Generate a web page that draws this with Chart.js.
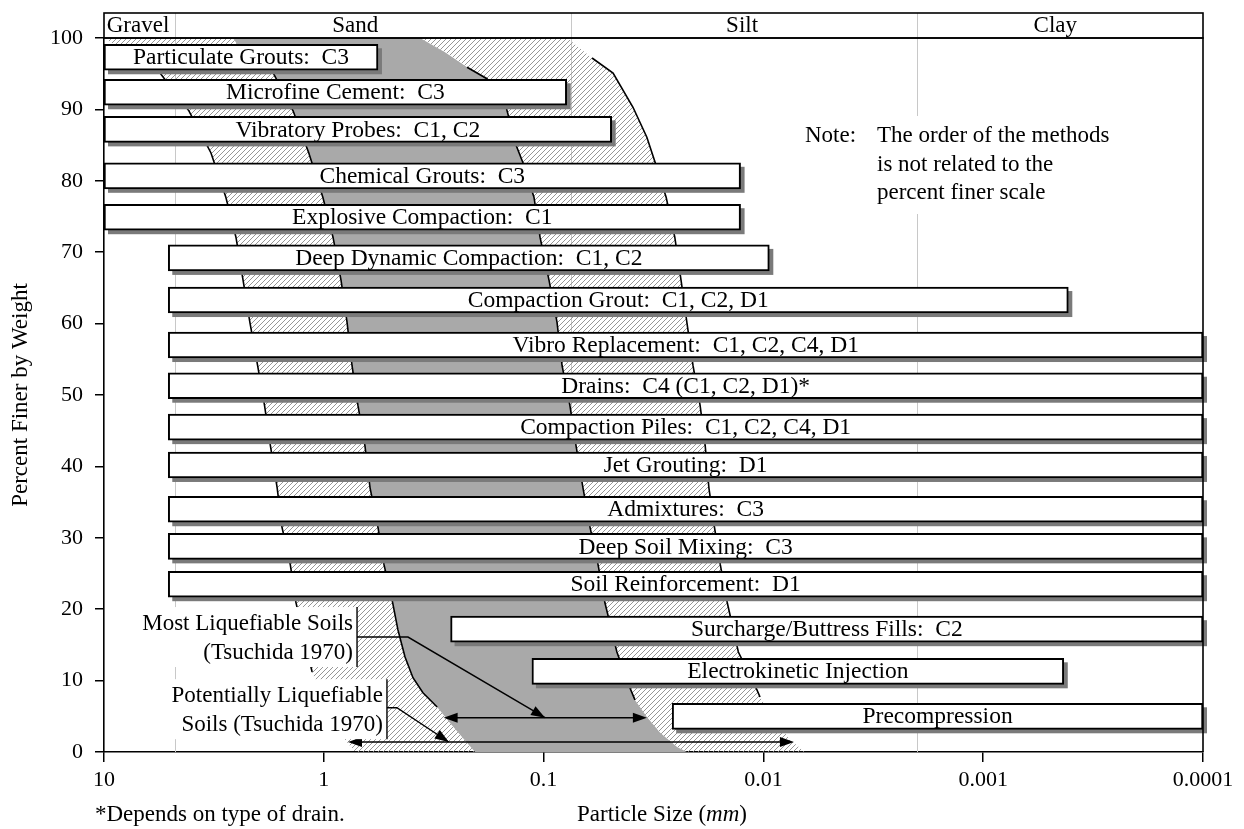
<!DOCTYPE html>
<html>
<head>
<meta charset="utf-8">
<script src="https://cdn.jsdelivr.net/npm/chart.js@4.4.1/dist/chart.umd.min.js"></script>
<style>
  html, body { margin: 0; padding: 0; background: #fff; }
  #wrap { width: 1244px; height: 829px; position: relative; }
</style>
</head>
<body>
<div id="wrap"><canvas id="chart"></canvas></div>
<script>
/* global Chart */

// ground improvement methods: name, coarse limit (mm), fine limit (mm), percent finer level
const methodNames = [
  "Particulate Grouts:  C3",
  "Microfine Cement:  C3",
  "Vibratory Probes:  C1, C2",
  "Chemical Grouts:  C3",
  "Explosive Compaction:  C1",
  "Deep Dynamic Compaction:  C1, C2",
  "Compaction Grout:  C1, C2, D1",
  "Vibro Replacement:  C1, C2, C4, D1",
  "Drains:  C4 (C1, C2, D1)*",
  "Compaction Piles:  C1, C2, C4, D1",
  "Jet Grouting:  D1",
  "Admixtures:  C3",
  "Deep Soil Mixing:  C3",
  "Soil Reinforcement:  D1",
  "Surcharge/Buttress Fills:  C2",
  "Electrokinetic Injection",
  "Precompression",
];
const methodCoarse = [10, 10, 10, 10, 10, 5.1, 5.1, 5.1, 5.1, 5.1, 5.1, 5.1, 5.1, 5.1, 0.265, 0.113, 0.026];
const methodFine = [0.567, 0.0785, 0.049, 0.0127, 0.0127, 0.0094, 0.00041, 0.0001, 0.0001, 0.0001, 0.0001,
  0.0001, 0.0001, 0.0001, 0.0001, 0.00043, 0.0001];
const methodLevel = [97.3, 92.4, 87.2, 80.7, 74.9, 69.2, 63.3, 57.0, 51.3, 45.5, 40.2, 34.0, 28.8, 23.5, 17.2, 11.3, 5.0];

// gradation limits (Tsuchida 1970), size in mm and percent finer
const potCoarseSize = [10, 8.64, 5.56, 4.11, 3.26, 2.79, 2.51, 2.33, 2.17, 2.0, 1.86, 1.75, 1.63, 1.55, 1.42, 1.34, 1.13, 0.987, 0.80, 0.72];
const potCoarsePct = [100, 98.7, 95.1, 89.8, 83.9, 77.7, 72.1, 66.1, 60.2, 54.1, 48.5, 42.9, 37.0, 31.5, 26.2, 21.0, 11.2, 6.6, 1.7, 0];
const mostCoarseSize = [2.59, 2.46, 1.70, 1.38, 1.17, 1.01, 0.908, 0.835, 0.784, 0.744, 0.699, 0.650, 0.616, 0.567, 0.532,
  0.489, 0.460, 0.427, 0.393, 0.354, 0.305, 0.267, 0.235, 0.205];
const mostCoarsePct = [100, 99.0, 95.1, 89.8, 83.9, 77.7, 72.1, 66.1, 60.2, 54.1, 48.5, 42.9, 37.0, 31.5, 26.2,
  21.3, 17.1, 13.3, 10.4, 8.3, 6.3, 4.1, 2.1, 0];
const mostFineSize = [0.365, 0.281, 0.223, 0.181, 0.148, 0.1335, 0.124, 0.1106, 0.1038, 0.0945, 0.0869, 0.0824, 0.0759,
  0.0712, 0.0662, 0.0615, 0.0565, 0.0526, 0.0464, 0.0405, 0.0384, 0.0339, 0.0295, 0.0247, 0.0223];
const mostFinePct = [100, 98.0, 95.9, 94.3, 90.3, 85.0, 82.5, 77.7, 72.1, 66.1, 60.2, 54.1, 48.5,
  42.9, 37.0, 31.5, 26.2, 20.9, 14.0, 9.0, 7.3, 4.9, 2.7, 0.7, 0];
const potFineSize = [0.0782, 0.0602, 0.0483, 0.0392, 0.0339, 0.0311, 0.0277, 0.0253, 0.0237, 0.0223, 0.0209, 0.0194,
  0.0184, 0.0177, 0.0167, 0.0157, 0.0146, 0.0130, 0.0107, 0.01036, 0.00886, 0.00757, 0.00647];
const potFinePct = [100, 97.2, 95.1, 90.3, 86.1, 82.6, 77.7, 72.1, 66.1, 60.2, 54.1, 48.5,
  42.9, 37.0, 31.5, 26.2, 20.9, 14.0, 8.7, 7.7, 4.5, 1.7, 0];
// part of each limit drawn as a line (percent finer, upper and lower)
const strokedPct = [[95.1, 11.2], [95.1, 6.3], [95.9, 7.3], [97.2, 7.7]];

// range arrows at the foot of the curves
const mostRange = [0.285, 0.0339];
const mostRangePct = 4.8;
const potRange = [0.776, 0.00726];
const potRangePct = 1.4;

// callouts: text, bracket size (mm), bracket span (percent), leader path
const calloutText = [["Most Liquefiable Soils", "(Tsuchida 1970)"], ["Potentially Liquefiable", "Soils (Tsuchida 1970)"]];
const calloutSize = [0.706, 0.516];
const calloutSpan = [[20.3, 11.9], [10.2, 1.8]];
const calloutPathSize = [[0.706, 0.414, 0.0985], [0.516, 0.465, 0.27]];
const calloutPathPct = [[16.1, 16.1, mostRangePct], [6.2, 6.2, potRangePct]];

// soil classes along the top
const soilBands = ["Gravel", "Sand", "Silt", "Clay"];
const bandLimits = [10, 4.75, 0.075, 0.002, 0.0001];
const bandLabelAt = [7.0, 0.72, 0.0125, 0.00047];

const xTicks = [10, 1, 0.1, 0.01, 0.001, 0.0001];
const xTickLabels = ["10", "1", "0.1", "0.01", "0.001", "0.0001"];

const noteLines = ["The order of the methods", "is not related to the", "percent finer scale"];

const serif = "'Liberation Serif', 'Times New Roman', serif";

const canvas = document.getElementById("chart");

function hatch() {
  const c = document.createElement("canvas");
  c.width = 5;
  c.height = 5;
  const g = c.getContext("2d");
  g.strokeStyle = "#8a8a8a";
  g.lineWidth = 0.9;
  g.beginPath();
  g.moveTo(-1, 6); g.lineTo(6, -1);
  g.moveTo(-1, 1); g.lineTo(1, -1);
  g.moveTo(4, 6); g.lineTo(6, 4);
  g.stroke();
  return canvas.getContext("2d").createPattern(c, "repeat");
}

const pts = (s, p) => s.map((v, i) => ({ x: v, y: p[i] }));
const curveA = pts(potCoarseSize, potCoarsePct);
const curveB = pts(mostCoarseSize, mostCoarsePct);
const curveC = pts(mostFineSize, mostFinePct);
const curveD = pts(potFineSize, potFinePct);

const stroked = (c, k) => c.filter((p) => p.y <= strokedPct[k][0] && p.y >= strokedPct[k][1]);
const lineDs = (data) => ({
  type: "line", data, borderColor: "#000", borderWidth: 1.6, pointRadius: 0, fill: false, tension: 0, order: 1,
});
const areaDs = (data, color) => ({
  type: "line", data, borderColor: "rgba(0,0,0,0)", borderWidth: 0, backgroundColor: color,
  pointRadius: 0, fill: "shape", tension: 0, order: 2,
});

function arrowHead(ctx, x0, y0, x1, y1) {
  const a = Math.atan2(y1 - y0, x1 - x0);
  const len = 14, half = 5;
  ctx.beginPath();
  ctx.moveTo(x1, y1);
  ctx.lineTo(x1 - len * Math.cos(a) + half * Math.sin(a), y1 - len * Math.sin(a) - half * Math.cos(a));
  ctx.lineTo(x1 - len * Math.cos(a) - half * Math.sin(a), y1 - len * Math.sin(a) + half * Math.cos(a));
  ctx.closePath();
  ctx.fill();
}

const backdrop = {
  id: "backdrop",
  beforeDatasetsDraw(chart) {
    const { ctx, chartArea: a, scales: { x } } = chart;
    ctx.save();
    ctx.strokeStyle = "#c8c8c8";
    ctx.lineWidth = 1;
    bandLimits.slice(1, -1).forEach((v) => {
      const xp = Math.round(x.getPixelForValue(v)) + 0.5;
      ctx.beginPath();
      ctx.moveTo(xp, a.top - 25);
      ctx.lineTo(xp, a.bottom);
      ctx.stroke();
    });
    ctx.restore();
  },
  beforeDatasetDraw(chart, args) {
    if (args.meta.type !== "bar") return;
    const ctx = chart.ctx;
    ctx.save();
    ctx.fillStyle = "#7a7a7a";
    args.meta.data.forEach((bar) => {
      const { x, y, base, height } = bar.getProps(["x", "y", "base", "height"], true);
      ctx.fillRect(Math.min(x, base) + 4, y - height / 2 + 4, Math.abs(x - base), height);
    });
    ctx.restore();
  },
};

const annotations = {
  id: "annotations",
  afterDatasetsDraw(chart) {
    const { ctx, scales: { x, y } } = chart;
    ctx.save();
    ctx.fillStyle = "#000";
    ctx.strokeStyle = "#000";

    // method names inside the bars
    ctx.font = `23.5px ${serif}`;
    ctx.textAlign = "center";
    ctx.textBaseline = "middle";
    chart.getDatasetMeta(0).data.forEach((bar, i) => {
      const { x: xe, y: yc, base } = bar.getProps(["x", "y", "base"], true);
      ctx.fillText(methodNames[i], (xe + base) / 2, yc + 1);
    });

    // range arrows
    ctx.lineWidth = 1.6;
    [[mostRange, mostRangePct], [potRange, potRangePct]].forEach(([r, p]) => {
      const x0 = x.getPixelForValue(r[0]);
      const x1 = x.getPixelForValue(r[1]);
      const yp = y.getPixelForValue(p);
      ctx.beginPath();
      ctx.moveTo(x0 + 6, yp);
      ctx.lineTo(x1 - 6, yp);
      ctx.stroke();
      arrowHead(ctx, x1, yp, x0, yp);
      arrowHead(ctx, x0, yp, x1, yp);
    });

    // callouts with white label boxes
    ctx.font = `23px ${serif}`;
    ctx.textAlign = "right";
    calloutText.forEach((lines, k) => {
      const bx = x.getPixelForValue(calloutSize[k]);
      const yt = y.getPixelForValue(calloutSpan[k][0]);
      const yb = y.getPixelForValue(calloutSpan[k][1]);
      const w = Math.max(...lines.map((t) => ctx.measureText(t).width));
      ctx.fillStyle = "#fff";
      ctx.fillRect(bx - w - 10, yt, w + 10, yb - yt);
      ctx.fillStyle = "#000";
      const mid = (yt + yb) / 2;
      lines.forEach((t, j) => ctx.fillText(t, bx - 4, mid + (j - 0.5) * 29 + 1));
      ctx.lineWidth = 1.4;
      ctx.beginPath();
      ctx.moveTo(bx, yt);
      ctx.lineTo(bx, yb);
      ctx.stroke();
      const path = calloutPathSize[k].map((s, j) => [x.getPixelForValue(s), y.getPixelForValue(calloutPathPct[k][j])]);
      ctx.beginPath();
      path.forEach(([px, py], j) => (j ? ctx.lineTo(px, py) : ctx.moveTo(px, py)));
      ctx.stroke();
      const n = path.length;
      arrowHead(ctx, path[n - 2][0], path[n - 2][1], path[n - 1][0], path[n - 1][1]);
    });

    // note
    ctx.textAlign = "left";
    ctx.font = `23px ${serif}`;
    ctx.fillStyle = "#fff";
    ctx.fillRect(800, 116, 330, 98);
    ctx.fillStyle = "#000";
    ctx.fillText("Note:", 805, 136);
    noteLines.forEach((t, j) => ctx.fillText(t, 877, 136 + j * 28.5));
    ctx.restore();
  },
  afterDraw(chart) {
    const { ctx, chartArea: a, scales: { x } } = chart;
    ctx.save();
    ctx.strokeStyle = "#000";
    ctx.lineWidth = 1.6;
    // frame top and right
    ctx.beginPath();
    ctx.moveTo(a.left, a.top);
    ctx.lineTo(a.right, a.top);
    ctx.lineTo(a.right, a.bottom);
    ctx.stroke();
    // soil class band
    const top = a.top - 25;
    ctx.strokeRect(a.left, top, a.right - a.left, 25);
    ctx.fillStyle = "#000";
    ctx.font = `23px ${serif}`;
    ctx.textAlign = "center";
    ctx.textBaseline = "middle";
    soilBands.forEach((name, i) => {
      ctx.fillText(name, x.getPixelForValue(bandLabelAt[i]), top + 13);
    });
    // x title with italic unit
    const parts = [["Particle Size (", ""], ["mm", "italic "], [")", ""]];
    const widths = parts.map(([t, s]) => { ctx.font = `${s}23px ${serif}`; return ctx.measureText(t).width; });
    let cx = 662 - widths.reduce((p, q) => p + q, 0) / 2;
    ctx.textAlign = "left";
    parts.forEach(([t, s], i) => {
      ctx.font = `${s}23px ${serif}`;
      ctx.fillText(t, cx, 815);
      cx += widths[i];
    });
    ctx.font = `23px ${serif}`;
    ctx.fillText("*Depends on type of drain.", 95, 815);
    ctx.restore();
  },
};

const chart = new Chart(canvas, {
  type: "line",
  data: {
    datasets: [
      {
        type: "bar",
        indexAxis: "y",
        data: methodLevel.map((lv, i) => ({ y: lv, x: [methodCoarse[i], methodFine[i]] })),
        backgroundColor: "#fff",
        borderColor: "#000",
        borderWidth: 2,
        borderSkipped: false,
        barThickness: 26,
        order: 0,
      },
      lineDs(stroked(curveA, 0)),
      lineDs(stroked(curveB, 1)),
      lineDs(stroked(curveC, 2)),
      lineDs(stroked(curveD, 3)),
      areaDs(curveA.concat(curveB.slice().reverse()), hatch()),
      areaDs(curveB.concat(curveC.slice().reverse()), "#a9a9a9"),
      areaDs(curveC.concat(curveD.slice().reverse()), hatch()),
    ],
  },
  options: {
    responsive: true,
    maintainAspectRatio: false,
    animation: false,
    events: [],
    layout: { padding: { top: 38, right: 41, left: 0, bottom: 0 } },
    plugins: { legend: { display: false }, tooltip: { enabled: false } },
    scales: {
      x: {
        type: "logarithmic",
        min: 0.0001,
        max: 10,
        reverse: true,
        offset: false,
        afterBuildTicks: (s) => { s.ticks = xTicks.map((v) => ({ value: v })); },
        afterFit: (s) => { s.height = 77; },
        ticks: {
          autoSkip: false,
          maxRotation: 0,
          padding: 5,
          color: "#000",
          font: { family: serif, size: 22 },
          callback: (v, i) => xTickLabels[i],
        },
        grid: { drawOnChartArea: false, offset: false, tickLength: 10, color: "#000", lineWidth: 1.5 },
        border: { color: "#000", width: 1.6 },
      },
      y: {
        type: "linear",
        min: 0,
        max: 100,
        offset: false,
        afterFit: (s) => { s.width = 104; },
        ticks: { stepSize: 10, padding: 12, color: "#000", font: { family: serif, size: 22 } },
        grid: { drawOnChartArea: false, offset: false, tickLength: 9, color: "#000", lineWidth: 1.5 },
        border: { color: "#000", width: 1.6 },
        title: {
          display: true,
          text: "Percent Finer by Weight",
          color: "#000",
          font: { family: serif, size: 23 },
          padding: { top: 7 },
        },
      },
    },
  },
  plugins: [backdrop, annotations],
});
</script>
</body>
</html>
